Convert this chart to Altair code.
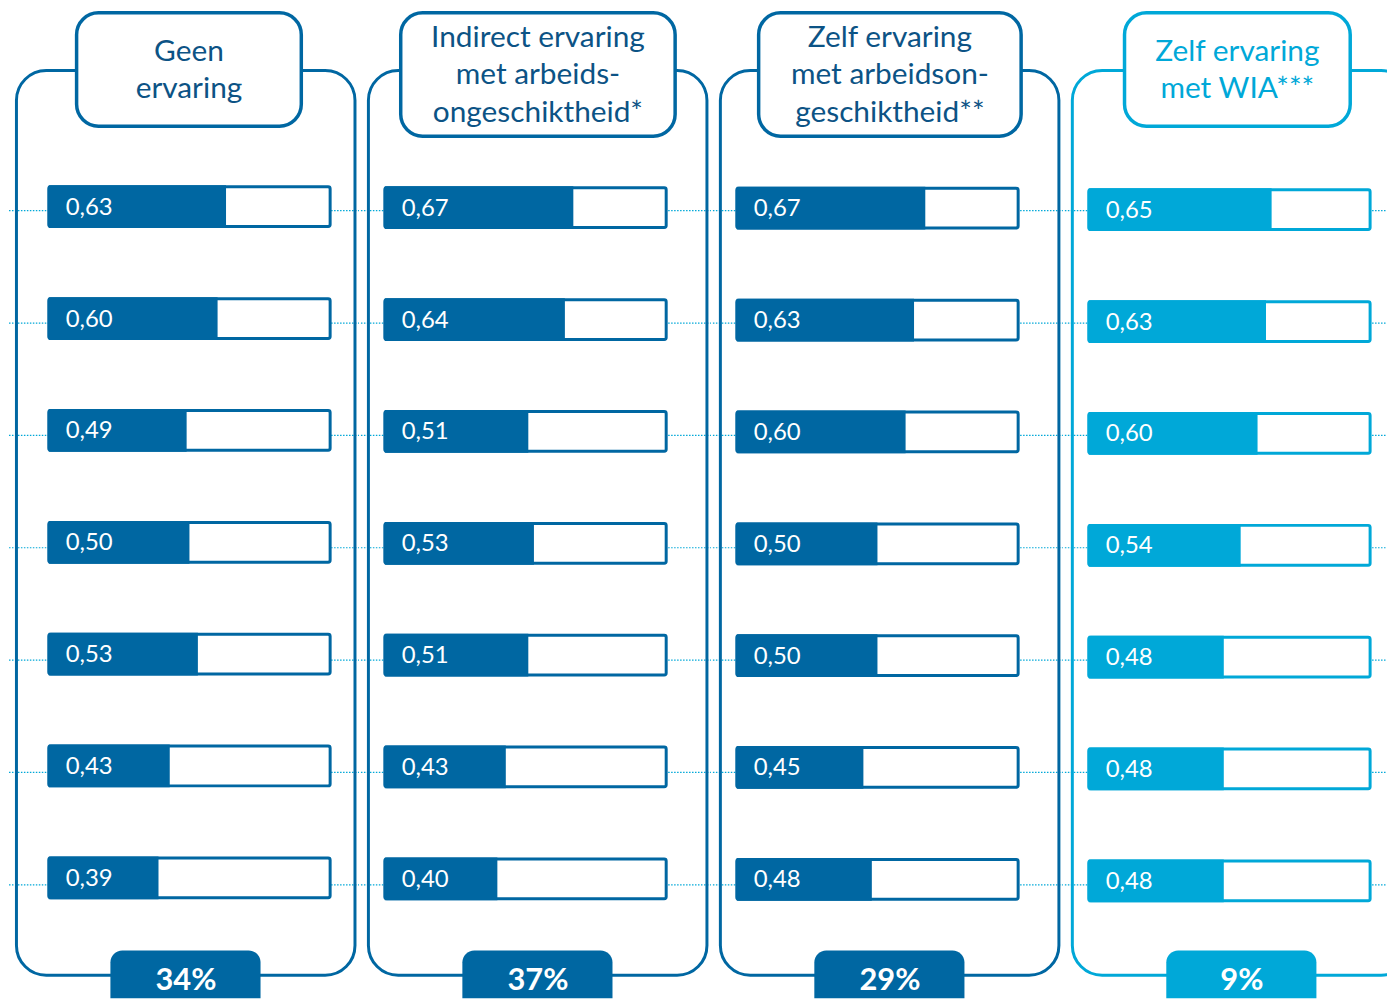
import altair as alt
import pandas as pd

# ---------------- data ----------------
panel_titles = [
    ["Geen", "ervaring"],
    ["Indirect ervaring", "met arbeids-", "ongeschiktheid*"],
    ["Zelf ervaring", "met arbeidson-", "geschiktheid**"],
    ["Zelf ervaring", "met WIA***"],
]
scores_geen = [0.63, 0.60, 0.49, 0.50, 0.53, 0.43, 0.39]
scores_indirect = [0.67, 0.64, 0.51, 0.53, 0.51, 0.43, 0.40]
scores_zelf = [0.67, 0.63, 0.60, 0.50, 0.50, 0.45, 0.48]
scores_wia = [0.65, 0.63, 0.60, 0.54, 0.48, 0.48, 0.48]
panel_scores = [scores_geen, scores_indirect, scores_zelf, scores_wia]
shares = ["34%", "37%", "29%", "9%"]

# ---------------- style / layout ----------------
DARK = "#0067a2"
LIGHT = "#00a8d8"
TITLE_DARK = "#0c5385"
FONT = "Lato"

PANEL_W = [352, 352, 352, 324]
BAR_LEFT = [40, 24, 24, 24]
BAR_W = 283
Y_TOP, Y_BOT = 10, 1003
ROW0 = [207, 208, 208.5, 210]
ROW_STEP = 112.5
DOT0, DOT_STEP = 211, 113
TITLE_CX = [181, 178, 178, 173.5]
TITLE_W = [226, 276, 264, 227]
LINE_H = 38


def panel(i):
    w = PANEL_W[i]
    bl = BAR_LEFT[i]

    def u(px):
        return (px - bl) / BAR_W

    xsc = alt.Scale(domain=[u(0), u(w)], nice=False, zero=False)
    ysc = alt.Scale(domain=[Y_TOP, Y_BOT], reverse=True, nice=False, zero=False)
    color = LIGHT if i == 3 else DARK
    tcolor = LIGHT if i == 3 else TITLE_DARK

    def X(f):
        return alt.X(f, type="quantitative", scale=xsc, axis=None)

    def Y(f):
        return alt.Y(f, type="quantitative", scale=ysc, axis=None)

    vals = panel_scores[i]
    n = len(vals)
    rows = pd.DataFrame({
        "value": vals,
        "label": [f"{v:.2f}".replace(".", ",") for v in vals],
    })
    rows["start"] = 0.0
    rows["full"] = 1.0
    rows["dl0"] = u(0)
    rows["dl1"] = u(w)
    rows["yc"] = [ROW0[i] + k * ROW_STEP for k in range(n)]
    rows["ydot"] = [DOT0 + k * DOT_STEP for k in range(n)]
    rows["o0"] = rows["yc"] - 20
    rows["o1"] = rows["yc"] + 20
    rows["f0"] = rows["yc"] - 21.5
    rows["f1"] = rows["yc"] + 21.5

    nlines = len(panel_titles[i])
    tb_bottom = 126 if nlines == 2 else 136
    tb_center = (12 + tb_bottom) / 2
    cx = TITLE_CX[i]
    tw = TITLE_W[i]
    title_df = pd.DataFrame({
        "line": panel_titles[i],
        "x": [u(cx)] * nlines,
        "y": [tb_center + 1 + (k - (nlines - 1) / 2) * LINE_H for k in range(nlines)],
    })
    box_df = pd.DataFrame({"x0": [u(7.5)], "x1": [u(348)], "y0": [70], "y1": [980]})
    tbox_df = pd.DataFrame({"x0": [u(cx - tw / 2)], "x1": [u(cx + tw / 2)],
                            "y0": [12], "y1": [tb_bottom]})
    badge_df = pd.DataFrame({"x0": [u(102)], "x1": [u(253)], "xt": [u(178)],
                             "y0": [955], "y1": [1025], "yt": [986], "txt": [shares[i]]})

    dots = alt.Chart(rows).mark_rule(
        strokeDash=[1.5, 1.5], color=LIGHT, strokeWidth=1.2
    ).encode(x=X("dl0"), x2="dl1", y=Y("ydot"))

    box = alt.Chart(box_df).mark_rect(
        cornerRadius=30, fill="white", fillOpacity=0, stroke=color, strokeWidth=3, clip=True
    ).encode(x=X("x0"), x2="x1", y=Y("y0"), y2="y1")

    tbox = alt.Chart(tbox_df).mark_rect(
        cornerRadius=22, fill="white", stroke=color, strokeWidth=3.5
    ).encode(x=X("x0"), x2="x1", y=Y("y0"), y2="y1")

    ttext = alt.Chart(title_df).mark_text(
        font=FONT, fontSize=30, color=tcolor, align="center", baseline="middle"
    ).encode(x=X("x"), y=Y("y"), text="line:N")

    outline = alt.Chart(rows).mark_rect(
        fill="white", stroke=color, strokeWidth=3, cornerRadius=2
    ).encode(x=X("start"), x2="full", y=Y("o0"), y2="o1")

    fill = alt.Chart(rows).mark_rect(color=color).encode(
        x=X("start"), x2="value", y=Y("f0"), y2="f1"
    )

    vtext = alt.Chart(rows).mark_text(
        font=FONT, fontSize=24, color="white", align="left", baseline="middle", dx=17, dy=1
    ).encode(x=X("start"), y=Y("yc"), text="label:N")

    badge = alt.Chart(badge_df).mark_rect(
        cornerRadius=12, color=color, clip=True
    ).encode(x=X("x0"), x2="x1", y=Y("y0"), y2="y1")

    btext = alt.Chart(badge_df).mark_text(
        font=FONT, fontSize=31, fontWeight="bold", color="white", align="center", baseline="middle"
    ).encode(x=X("xt"), y=Y("yt"), text="txt:N")

    return alt.layer(
        dots, box, tbox, ttext, outline, fill, vtext, badge, btext
    ).properties(width=w, height=Y_BOT - Y_TOP)


chart = alt.hconcat(*[panel(i) for i in range(4)], spacing=0).properties(
    padding=0, background="white"
).configure_view(stroke=None)

chart.save("out.html", embed_options={"renderer": "svg", "actions": False})
